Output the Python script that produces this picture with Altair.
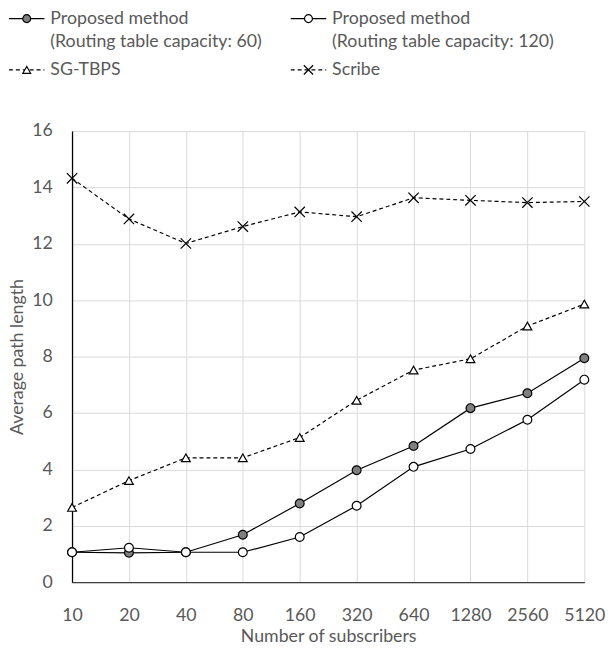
import altair as alt
import pandas as pd

# ---------------- data ----------------
subscribers = ["10", "20", "40", "80", "160", "320", "640", "1280", "2560", "5120"]
proposed_60 = [1.06, 1.04, 1.06, 1.68, 2.79, 3.97, 4.83, 6.17, 6.70, 7.94]
proposed_120 = [1.06, 1.22, 1.06, 1.06, 1.60, 2.71, 4.09, 4.72, 5.76, 7.18]
sg_tbps = [2.65, 3.60, 4.41, 4.41, 5.13, 6.45, 7.52, 7.92, 9.08, 9.86]
scribe = [14.32, 12.88, 12.01, 12.61, 13.13, 12.96, 13.63, 13.54, 13.46, 13.50]

series_names = ["P60", "P120", "SG-TBPS", "Scribe"]
legend_labels = [
    ["Proposed method", "(Routing table capacity: 60)"],
    ["Proposed method", "(Routing table capacity: 120)"],
    ["SG-TBPS"],
    ["Scribe"],
]
y_title = "Average path length"
x_title = "Number of subscribers"

# ---------------- styles ----------------
FONT = "Lato"
TXT = "#595959"
X_PATH = "M-1,-1L1,1M-1,1L1,-1"
styles = {
    "P60": dict(dash=None, shape="circle", fill="#7f7f7f", size=80),
    "P120": dict(dash=None, shape="circle", fill="#ffffff", size=80),
    "SG-TBPS": dict(dash=[4, 3], shape="triangle-up", fill="#ffffff", size=80),
    "Scribe": dict(dash=[4, 3], shape=X_PATH, fill=None, size=110),
}
values_by_series = {"P60": proposed_60, "P120": proposed_120, "SG-TBPS": sg_tbps, "Scribe": scribe}

x_enc = alt.X(
    "subscribers:O", sort=subscribers,
    scale=alt.Scale(type="point", padding=0),
    axis=alt.Axis(title=x_title, labelAngle=0, ticks=False, labelPadding=25,
                  titlePadding=3, domainColor="#404040", domainWidth=1.3,
                  gridColor="#d9d9d9", grid=True, labelColor=TXT, titleColor=TXT,
                  labelFontSize=18, titleFontSize=18, labelFont=FONT, titleFont=FONT,
                  titleFontWeight="normal"),
)
y_enc = alt.Y(
    "value:Q", scale=alt.Scale(domain=[0, 16]),
    axis=alt.Axis(title=y_title, values=list(range(0, 17, 2)), ticks=False,
                  labelPadding=20, titlePadding=6, minExtent=40, maxExtent=40,
                  domainColor="#000000", domainWidth=1.3, gridColor="#d9d9d9",
                  labelColor=TXT, titleColor=TXT, labelFontSize=18, titleFontSize=18,
                  labelFont=FONT, titleFont=FONT, titleFontWeight="normal"),
)

layers = []
for name in ["Scribe", "SG-TBPS", "P60", "P120"]:
    st = styles[name]
    df = pd.DataFrame({"subscribers": subscribers, "value": values_by_series[name], "series": name})
    base = alt.Chart(df).encode(x=x_enc, y=y_enc)
    line_kw = dict(color="#000000", strokeWidth=1.2)
    if st["dash"]:
        line_kw["strokeDash"] = st["dash"]
    layers.append(base.mark_line(**line_kw))
    pt_kw = dict(shape=st["shape"], size=st["size"], stroke="#000000", strokeWidth=1.2,
                 opacity=1, strokeOpacity=1)
    if st["fill"]:
        pt_kw.update(fill=st["fill"], fillOpacity=1, filled=True)
    else:
        pt_kw.update(filled=False)
    layers.append(base.mark_point(**pt_kw))

PW, PH = 520, 458
main = alt.layer(*layers).properties(width=PW, height=PH)

# ---------------- legend (layout positions, px relative to plot's left edge) ----------------
LH = 70
LEFT = -64
col_x = [LEFT, 222, LEFT, 222]
row_y = [7, 7, 59, 59]
sym_len = 36
text_gap = 42
line_step = 24

sym_rows = []
txt_rows = []
for i, name in enumerate(series_names):
    sym_rows.append(dict(series=name, x0=col_x[i], x1=col_x[i] + sym_len,
                         xm=col_x[i] + sym_len / 2, y=row_y[i]))
    for j, t in enumerate(legend_labels[i]):
        txt_rows.append(dict(x=col_x[i] + text_gap, y=row_y[i] + j * line_step, text=t))

lx = alt.Scale(domain=[0, PW])
ly = alt.Scale(domain=[0, LH], reverse=True)
leg_layers = []
for row in sym_rows:
    st = styles[row["series"]]
    d = pd.DataFrame([row])
    b = alt.Chart(d)
    kw = dict(color="#000000", strokeWidth=1.2)
    if st["dash"]:
        kw["strokeDash"] = st["dash"]
    leg_layers.append(b.mark_rule(**kw).encode(
        x=alt.X("x0:Q", scale=lx, axis=None), x2="x1:Q", y=alt.Y("y:Q", scale=ly, axis=None)))
    pt_kw = dict(shape=st["shape"], size=st["size"] * 0.8, stroke="#000000", strokeWidth=1.2,
                 opacity=1, strokeOpacity=1)
    if st["fill"]:
        pt_kw.update(fill=st["fill"], fillOpacity=1, filled=True)
    else:
        pt_kw.update(filled=False)
    leg_layers.append(b.mark_point(**pt_kw).encode(
        x=alt.X("xm:Q", scale=lx, axis=None), y=alt.Y("y:Q", scale=ly, axis=None)))

leg_layers.append(alt.Chart(pd.DataFrame(txt_rows)).mark_text(
    align="left", baseline="middle", font=FONT, fontSize=18, color=TXT).encode(
    x=alt.X("x:Q", scale=lx, axis=None), y=alt.Y("y:Q", scale=ly, axis=None), text="text:N"))

legend = alt.layer(*leg_layers).properties(width=PW, height=LH)

chart = alt.vconcat(legend, main, spacing=42).properties(
    padding={"left": 0, "top": -3, "right": 0, "bottom": -3}
).configure_view(stroke=None).resolve_scale(x="independent", y="independent")

chart.save("out.html", embed_options={"renderer": "svg", "actions": False})
